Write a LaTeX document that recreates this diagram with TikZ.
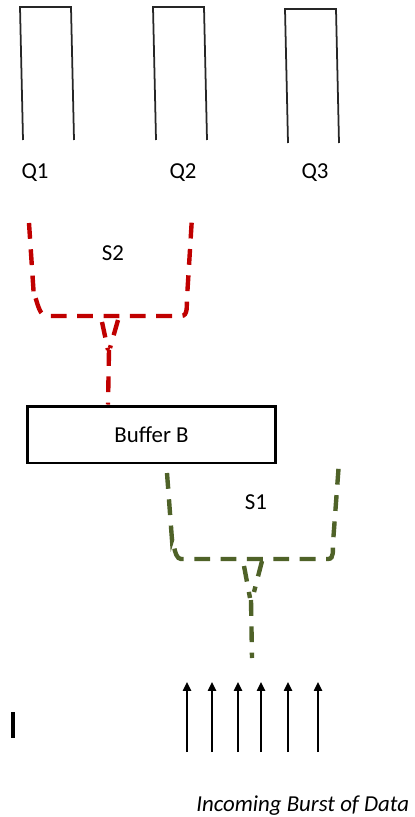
\documentclass[tikz,border=0pt]{standalone}
\usepackage{fontspec}
\setmainfont{Carlito}
\usepackage{tikz}
\usetikzlibrary{positioning,arrows.meta}
\definecolor{swRed}{HTML}{C00000}
\definecolor{swGreen}{HTML}{4F6228}
\tikzset{
  queueLine/.style={line width=1pt, black!85},
  switchRed/.style={draw=swRed, line width=2.5pt, dash pattern=on 9pt off 6pt},
  switchGreen/.style={draw=swGreen, line width=2.5pt, dash pattern=on 9pt off 6pt},
  burst/.style={-{Triangle[length=5pt,width=4.6pt]}, line width=0.9pt},
  lbl/.style={font=\fontsize{13}{15}\selectfont, inner sep=0pt},
  bufferBox/.style={draw, line width=1.7pt, minimum width=4.98cm, minimum height=1.14cm, font=\fontsize{13}{15}\selectfont}
}
\begin{document}
\begin{tikzpicture}[x=0.02cm, y=-0.02cm]
  \useasboundingbox (0,0) rectangle (414,817);

  \draw[queueLine] (23,140) -- (20,7) -- (71,7) -- (74,140);
  \draw[queueLine] (156,140) -- (153,7) -- (204,7) -- (207,140);
  \draw[queueLine] (288,143) -- (285,9) -- (336,9) -- (339,143);
  \node[lbl] (q1) at (35,173) {Q1};
  \node[lbl] (q2) at (183,173) {Q2};
  \node[lbl] (q3) at (315,173) {Q3};

  \node[lbl] (s2) at (113,253) {S2};
  \node[bufferBox] (buf) at (151.5,434.5) {Buffer B};
  \draw[switchRed] (29,223) -- (34,298) to[out=80,in=180] (46,316) -- (181,316)
    to[out=0,in=-95] (187,298) -- (192,217);
  \draw[switchRed] (102,322) -- (108,350);
  \draw[switchRed] (118,320) -- (110,348);
  \draw[switchRed] (109,350) -- (buf.north -| 108,0);

  \node[lbl] (s1) at (256,502) {S1};
  \draw[switchGreen] (167,473) -- (172,540) to[out=80,in=180] (181,559) -- (328,559)
    to[out=0,in=-95] (333,543) -- (339,462);
  \draw[switchGreen] (244,566) -- (250,598);
  \draw[switchGreen] (262,561) -- (254,592);
  \draw[switchGreen] (251,600) -- (252,658);

  \foreach \x [count=\i] in {187,212,238,261,288,318} {
    \coordinate (b\i) at (\x,752);
    \coordinate (t\i) at (\x,682);
    \draw[burst] (b\i) -- (t\i);
  }
  \draw[line width=2pt] (13,712) -- (13,738);

  \node[font=\fontsize{13}{15}\selectfont\itshape, anchor=west, inner sep=0pt] (burstlbl) at (196,806) {Incoming Burst of Data};
\end{tikzpicture}
\end{document}
